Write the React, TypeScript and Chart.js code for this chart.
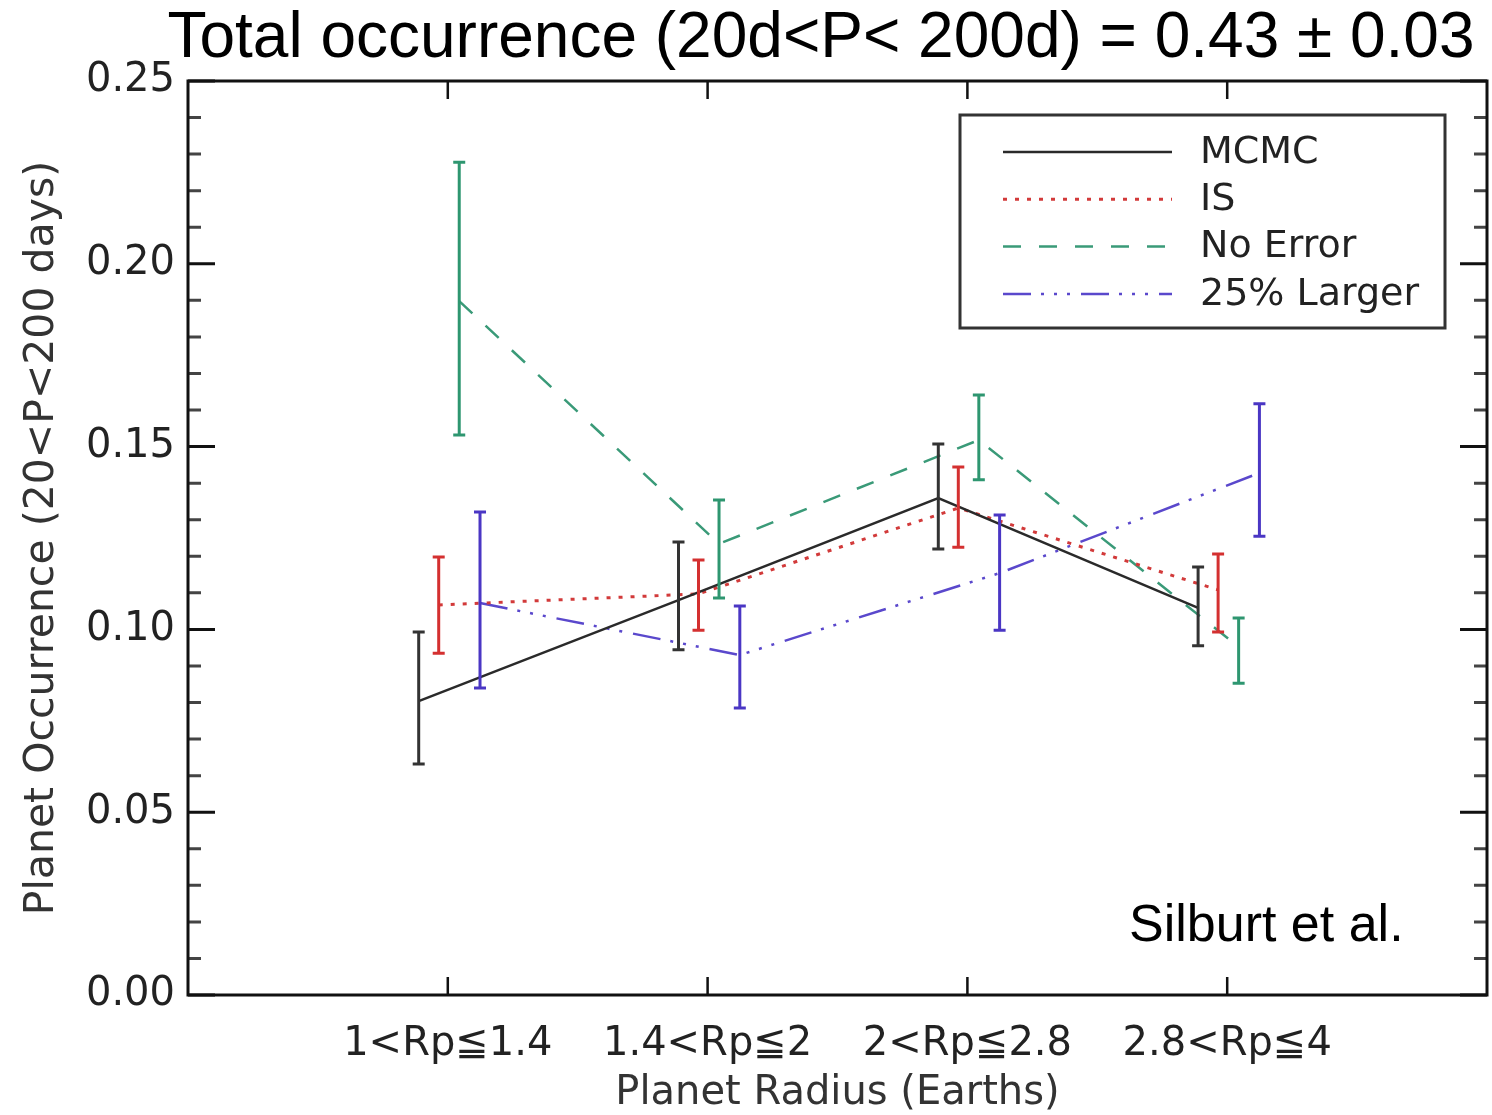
import React, { useEffect, useRef } from "react";
import { Chart, registerables } from "chart.js";

Chart.register(...registerables);

// ---------- data ----------
const categories = ["1<Rp≦1.4", "1.4<Rp≦2", "2<Rp≦2.8", "2.8<Rp≦4"];
const seriesNames = ["MCMC", "IS", "No Error", "25% Larger"];
const seriesXOffset = [-0.112, -0.035, 0.044, 0.124];

const mcmcValues = [0.0804, 0.108, 0.1359, 0.1059];
const mcmcLow = [0.0632, 0.0944, 0.122, 0.0955];
const mcmcHigh = [0.0993, 0.1239, 0.1507, 0.1171];

const isValues = [0.1067, 0.1097, 0.1332, 0.1108];
const isLow = [0.0935, 0.0998, 0.1225, 0.0993];
const isHigh = [0.1198, 0.119, 0.1444, 0.1206];

const noErrValues = [0.1898, 0.1234, 0.1518, 0.0952];
const noErrLow = [0.1532, 0.1086, 0.1409, 0.0853];
const noErrHigh = [0.2278, 0.1354, 0.1641, 0.1031];

const largerValues = [0.1072, 0.093, 0.1154, 0.1428];
const largerLow = [0.084, 0.0785, 0.0998, 0.1255];
const largerHigh = [0.1321, 0.1064, 0.1313, 0.1617];

const yTickValues = [0, 0.05, 0.1, 0.15, 0.2, 0.25];
const yMinorStep = 0.01;

const titleText = "Total occurrence (20d<P< 200d) = 0.43 ± 0.03";
const annotationText = "Silburt et al.";
const xAxisTitle = "Planet Radius (Earths)";
const yAxisTitle = "Planet Occurrence (20<P<200 days)";

const IDL_FONT = "'DejaVu Sans', sans-serif";
const ARIAL = "'Liberation Sans', Arial, sans-serif";

function makeDataset(
  idx: number,
  values: number[],
  low: number[],
  high: number[],
  color: string,
  errColor: string,
  dash: number[],
  width: number
) {
  return {
    label: seriesNames[idx],
    data: values.map((v, i) => ({ x: i + 1 + seriesXOffset[idx], y: v })),
    errLow: low,
    errHigh: high,
    errColor,
    borderColor: color,
    backgroundColor: color,
    borderDash: dash,
    borderWidth: width,
    pointRadius: 0,
    tension: 0,
    fill: false,
  };
}

const frameAndTicksPlugin = {
  id: "frameAndTicks",
  afterDraw(chart: any) {
    const { ctx, chartArea, scales } = chart;
    const { left, right, top, bottom } = chartArea;
    const y = scales.y;
    const x = scales.x;
    ctx.save();
    ctx.setLineDash([]);
    // y ticks, inward on both sides
    const yMax = yTickValues[yTickValues.length - 1];
    const nMinor = Math.round(yMax / yMinorStep);
    for (let k = 0; k <= nMinor; k++) {
      const v = k * yMinorStep;
      const py = y.getPixelForValue(v);
      const major = yTickValues.some((t) => Math.abs(t - v) < 1e-9);
      const len = major ? 27 : 13;
      ctx.strokeStyle = major ? "#111" : "#444";
      ctx.lineWidth = 3;
      ctx.beginPath();
      ctx.moveTo(left, py);
      ctx.lineTo(left + len, py);
      ctx.moveTo(right, py);
      ctx.lineTo(right - len, py);
      ctx.stroke();
    }
    // x ticks, inward top and bottom
    categories.forEach((_, i) => {
      const px = x.getPixelForValue(i + 1);
      ctx.strokeStyle = "#111";
      ctx.lineWidth = 2.5;
      ctx.beginPath();
      ctx.moveTo(px, bottom);
      ctx.lineTo(px, bottom - 18);
      ctx.moveTo(px, top);
      ctx.lineTo(px, top + 18);
      ctx.stroke();
    });
    // frame
    ctx.strokeStyle = "#111";
    ctx.lineWidth = 3;
    ctx.strokeRect(left, top, right - left, bottom - top);

    // title
    ctx.fillStyle = "#000";
    ctx.font = `64px ${ARIAL}`;
    ctx.textAlign = "center";
    ctx.textBaseline = "alphabetic";
    ctx.fillText(titleText, 821, 57);

    // annotation
    ctx.font = `52px ${ARIAL}`;
    ctx.textAlign = "left";
    ctx.fillText(annotationText, right - 358, bottom - 54);

    // legend
    const bx0 = right - 527;
    const by0 = top + 34;
    const bw = 485;
    const bh = 213;
    ctx.fillStyle = "#fff";
    ctx.fillRect(bx0, by0, bw, bh);
    ctx.strokeStyle = "#333";
    ctx.lineWidth = 3;
    ctx.strokeRect(bx0, by0, bw, bh);
    chart.data.datasets.forEach((ds: any, i: number) => {
      const ly = by0 + 37 + i * 47.3;
      ctx.save();
      ctx.strokeStyle = ds.borderColor;
      ctx.lineWidth = ds.borderWidth;
      ctx.setLineDash(ds.borderDash || []);
      ctx.beginPath();
      ctx.moveTo(bx0 + 43, ly);
      ctx.lineTo(bx0 + 212, ly);
      ctx.stroke();
      ctx.restore();
      ctx.fillStyle = "#222";
      ctx.font = `38px ${IDL_FONT}`;
      ctx.textAlign = "left";
      ctx.textBaseline = "middle";
      ctx.fillText(ds.label, bx0 + 240, ly + 1);
    });
    ctx.restore();
  },
};

const errorBarPlugin = {
  id: "errorBars",
  afterDatasetsDraw(chart: any) {
    const { ctx, scales } = chart;
    const x = scales.x;
    const y = scales.y;
    ctx.save();
    ctx.setLineDash([]);
    chart.data.datasets.forEach((ds: any) => {
      ctx.strokeStyle = ds.errColor;
      ctx.lineWidth = 3;
      ds.data.forEach((p: any, i: number) => {
        const px = x.getPixelForValue(p.x);
        const yl = y.getPixelForValue(ds.errLow[i]);
        const yh = y.getPixelForValue(ds.errHigh[i]);
        ctx.beginPath();
        ctx.moveTo(px, yl);
        ctx.lineTo(px, yh);
        ctx.moveTo(px - 6, yl);
        ctx.lineTo(px + 6, yl);
        ctx.moveTo(px - 6, yh);
        ctx.lineTo(px + 6, yh);
        ctx.stroke();
      });
    });
    ctx.restore();
  },
};

export default function App() {
  const canvasRef = useRef<HTMLCanvasElement | null>(null);

  useEffect(() => {
    if (!canvasRef.current) return;
    const datasets = [
      makeDataset(0, mcmcValues, mcmcLow, mcmcHigh, "#2a2a2a", "#333333", [], 2.5),
      makeDataset(1, isValues, isLow, isHigh, "#d23a3a", "#d43030", [4, 8], 3),
      makeDataset(2, noErrValues, noErrLow, noErrHigh, "#3a9a78", "#2e9670", [18, 18], 2.5),
      makeDataset(3, largerValues, largerLow, largerHigh, "#5a48cc", "#4a36c4", [28, 10, 3, 10, 3, 10, 3, 11], 2.5),
    ];
    const chart = new Chart(canvasRef.current, {
      type: "line",
      data: { datasets: datasets as any },
      options: {
        animation: false,
        responsive: true,
        maintainAspectRatio: false,
        layout: { padding: { top: 81, right: 5, left: 0, bottom: 0 } },
        plugins: {
          legend: { display: false },
          tooltip: { enabled: false },
          title: { display: false },
        },
        scales: {
          x: {
            type: "linear",
            min: 0,
            max: 5,
            afterBuildTicks: (scale: any) => {
              scale.ticks = categories.map((_, i) => ({ value: i + 1 }));
            },
            afterFit: (scale: any) => {
              scale.height = 120;
            },
            grid: { display: false, drawTicks: false },
            border: { display: false },
            ticks: {
              autoSkip: false,
              maxRotation: 0,
              padding: 26,
              color: "#222",
              font: { family: IDL_FONT, size: 40 },
              callback: (v: any) => categories[Math.round(Number(v)) - 1] ?? "",
            },
            title: {
              display: true,
              text: xAxisTitle,
              color: "#333",
              font: { family: IDL_FONT, size: 40 },
              padding: { top: 0, bottom: -3 },
            },
          },
          y: {
            type: "linear",
            min: 0,
            max: 0.25,
            afterBuildTicks: (scale: any) => {
              scale.ticks = yTickValues.map((v) => ({ value: v }));
            },
            afterFit: (scale: any) => {
              scale.width = 188;
            },
            grid: { display: false, drawTicks: false },
            border: { display: false },
            ticks: {
              padding: 13,
              color: "#222",
              font: { family: IDL_FONT, size: 40 },
              callback: (v: any) => Number(v).toFixed(2),
            },
            title: {
              display: true,
              text: yAxisTitle,
              color: "#333",
              font: { family: IDL_FONT, size: 41 },
              padding: { top: 18, bottom: 0 },
            },
          },
        },
      },
      plugins: [errorBarPlugin, frameAndTicksPlugin],
    } as any);
    return () => chart.destroy();
  }, []);

  return (
    <div style={{ position: "absolute", left: 0, top: 0, width: 1492, height: 1115, background: "#fff" }}>
      <canvas ref={canvasRef} />
    </div>
  );
}
